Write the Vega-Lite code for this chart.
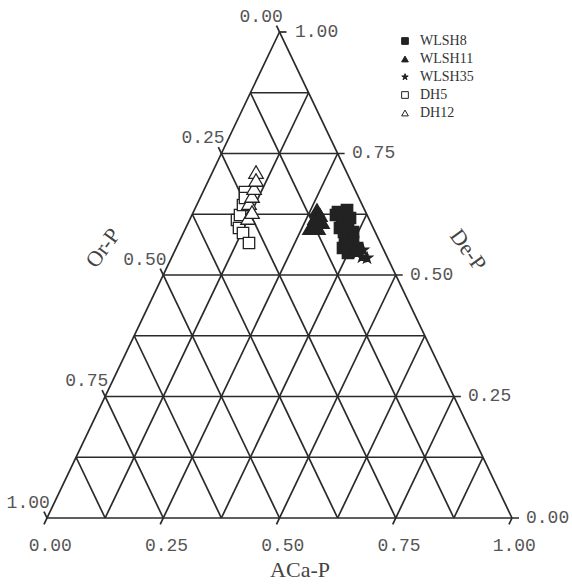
{
  "$schema": "https://vega.github.io/schema/vega-lite/v6.json",
  "width": 572,
  "height": 587,
  "autosize": "none",
  "padding": 0,
  "background": "white",
  "config": {"view": {"stroke": null}},
  "datasets": {
    "grid": [
      {"x": 0, "y": 0, "x2": 1.015, "y2": 0},
      {"x": 0.0625, "y": 0.125, "x2": 0.9375, "y2": 0.125},
      {"x": 0.125, "y": 0.25, "x2": 0.89, "y2": 0.25},
      {"x": 0.1875, "y": 0.375, "x2": 0.8125, "y2": 0.375},
      {"x": 0.25, "y": 0.5, "x2": 0.765, "y2": 0.5},
      {"x": 0.3125, "y": 0.625, "x2": 0.6875, "y2": 0.625},
      {"x": 0.375, "y": 0.75, "x2": 0.64, "y2": 0.75},
      {"x": 0.4375, "y": 0.875, "x2": 0.5625, "y2": 0.875},
      {"x": 0.5, "y": 1, "x2": 0.515, "y2": 1},
      {"x": -0.0065, "y": -0.013, "x2": 0.5, "y2": 1},
      {"x": 0.125, "y": 0, "x2": 0.5625, "y2": 0.875},
      {"x": 0.2435, "y": -0.013, "x2": 0.625, "y2": 0.75},
      {"x": 0.375, "y": 0, "x2": 0.6875, "y2": 0.625},
      {"x": 0.4935, "y": -0.013, "x2": 0.75, "y2": 0.5},
      {"x": 0.625, "y": 0, "x2": 0.8125, "y2": 0.375},
      {"x": 0.7435, "y": -0.013, "x2": 0.875, "y2": 0.25},
      {"x": 0.875, "y": 0, "x2": 0.9375, "y2": 0.125},
      {"x": 0.9935, "y": -0.013, "x2": 1, "y2": 0},
      {"x": 0, "y": 0, "x2": -0.0065, "y2": 0.013},
      {"x": 0.125, "y": 0, "x2": 0.0625, "y2": 0.125},
      {"x": 0.25, "y": 0, "x2": 0.1185, "y2": 0.263},
      {"x": 0.375, "y": 0, "x2": 0.1875, "y2": 0.375},
      {"x": 0.5, "y": 0, "x2": 0.2435, "y2": 0.513},
      {"x": 0.625, "y": 0, "x2": 0.3125, "y2": 0.625},
      {"x": 0.75, "y": 0, "x2": 0.3685, "y2": 0.763},
      {"x": 0.875, "y": 0, "x2": 0.4375, "y2": 0.875},
      {"x": 1, "y": 0, "x2": 0.4935, "y2": 1.013}
    ],
    "pts": [
      {"s": "WLSH8", "x": 0.6258, "y": 0.6296},
      {"s": "WLSH8", "x": 0.6452, "y": 0.6337},
      {"s": "WLSH8", "x": 0.6516, "y": 0.6173},
      {"s": "WLSH8", "x": 0.6344, "y": 0.6132},
      {"s": "WLSH8", "x": 0.6301, "y": 0.5967},
      {"s": "WLSH8", "x": 0.6473, "y": 0.5967},
      {"s": "WLSH8", "x": 0.6581, "y": 0.5885},
      {"s": "WLSH8", "x": 0.6409, "y": 0.5761},
      {"s": "WLSH8", "x": 0.6581, "y": 0.5679},
      {"s": "WLSH8", "x": 0.6366, "y": 0.5556},
      {"s": "WLSH8", "x": 0.6667, "y": 0.5556},
      {"s": "WLSH8", "x": 0.6473, "y": 0.5453},
      {"s": "WLSH8", "x": 0.6215, "y": 0.6235},
      {"s": "WLSH8", "x": 0.6387, "y": 0.5885},
      {"s": "WLSH11", "x": 0.5806, "y": 0.6337},
      {"s": "WLSH11", "x": 0.5763, "y": 0.6173},
      {"s": "WLSH11", "x": 0.5720, "y": 0.6029},
      {"s": "WLSH11", "x": 0.5828, "y": 0.5967},
      {"s": "WLSH11", "x": 0.5914, "y": 0.6091},
      {"s": "WLSH11", "x": 0.5656, "y": 0.5967},
      {"s": "WLSH11", "x": 0.5871, "y": 0.6235},
      {"s": "WLSH35", "x": 0.6774, "y": 0.5370},
      {"s": "WLSH35", "x": 0.6882, "y": 0.5350},
      {"s": "WLSH35", "x": 0.6667, "y": 0.5453},
      {"s": "WLSH35", "x": 0.6796, "y": 0.5514},
      {"s": "DH5", "x": 0.4258, "y": 0.6708},
      {"s": "DH5", "x": 0.4258, "y": 0.6584},
      {"s": "DH5", "x": 0.4215, "y": 0.6440},
      {"s": "DH5", "x": 0.4151, "y": 0.6235},
      {"s": "DH5", "x": 0.4086, "y": 0.6132},
      {"s": "DH5", "x": 0.4129, "y": 0.5967},
      {"s": "DH5", "x": 0.4215, "y": 0.5864},
      {"s": "DH5", "x": 0.4344, "y": 0.5658},
      {"s": "DH12", "x": 0.4495, "y": 0.7119},
      {"s": "DH12", "x": 0.4495, "y": 0.6955},
      {"s": "DH12", "x": 0.4452, "y": 0.6790},
      {"s": "DH12", "x": 0.4409, "y": 0.6626},
      {"s": "DH12", "x": 0.4344, "y": 0.6481},
      {"s": "DH12", "x": 0.4409, "y": 0.6296},
      {"s": "DH12", "x": 0.4323, "y": 0.6173}
    ]
  },
  "layer": [
    {
      "data": {"name": "grid"},
      "mark": {"type": "rule", "color": "#2a2a2a", "strokeWidth": 1.7},
      "encoding": {
        "x": {"field": "x", "type": "quantitative", "scale": {"domain": [-0.10108, 1.12903], "nice": false, "zero": false}, "axis": null},
        "y": {"field": "y", "type": "quantitative", "scale": {"domain": [-0.14198, 1.06584], "nice": false, "zero": false}, "axis": null},
        "x2": {"field": "x2"},
        "y2": {"field": "y2"}
      }
    },
    {
      "data": {"values": [
        {"x": 0.5333, "y": 1, "t": "1.00"},
        {"x": 0.6559, "y": 0.75, "t": "0.75"},
        {"x": 0.7806, "y": 0.5, "t": "0.50"},
        {"x": 0.9054, "y": 0.25, "t": "0.25"},
        {"x": 1.0301, "y": 0, "t": "0.00"}
      ]},
      "mark": {"type": "text", "align": "left", "baseline": "middle", "font": "Liberation Mono", "fontSize": 18, "color": "#555555"},
      "encoding": {
        "x": {"field": "x", "type": "quantitative"},
        "y": {"field": "y", "type": "quantitative"},
        "text": {"field": "t"}
      }
    },
    {
      "data": {"values": [
        {"x": 0.507, "y": 1.031, "t": "0.00"},
        {"x": 0.382, "y": 0.781, "t": "0.25"},
        {"x": 0.257, "y": 0.531, "t": "0.50"},
        {"x": 0.132, "y": 0.281, "t": "0.75"},
        {"x": 0.006, "y": 0.031, "t": "1.00"}
      ]},
      "mark": {"type": "text", "align": "right", "baseline": "middle", "font": "Liberation Mono", "fontSize": 18, "color": "#555555"},
      "encoding": {
        "x": {"field": "x", "type": "quantitative"},
        "y": {"field": "y", "type": "quantitative"},
        "text": {"field": "t"}
      }
    },
    {
      "data": {"values": [
        {"x": 0.007, "y": -0.0576, "t": "0.00"},
        {"x": 0.257, "y": -0.0576, "t": "0.25"},
        {"x": 0.507, "y": -0.0576, "t": "0.50"},
        {"x": 0.757, "y": -0.0576, "t": "0.75"},
        {"x": 1.005, "y": -0.0576, "t": "1.00"}
      ]},
      "mark": {"type": "text", "align": "center", "baseline": "middle", "font": "Liberation Mono", "fontSize": 18, "color": "#555555"},
      "encoding": {
        "x": {"field": "x", "type": "quantitative"},
        "y": {"field": "y", "type": "quantitative"},
        "text": {"field": "t"}
      }
    },
    {
      "data": {"values": [{"x": 0.5441, "y": -0.107, "t": "ACa-P"}]},
      "mark": {"type": "text", "align": "center", "baseline": "middle", "font": "Liberation Serif", "fontSize": 22, "color": "#444444"},
      "encoding": {
        "x": {"field": "x", "type": "quantitative"},
        "y": {"field": "y", "type": "quantitative"},
        "text": {"field": "t"}
      }
    },
    {
      "data": {"values": [{"x": 0.1204, "y": 0.5556, "t": "Or-P"}]},
      "mark": {"type": "text", "align": "center", "baseline": "middle", "font": "Liberation Serif", "fontSize": 22, "color": "#444444", "angle": -54},
      "encoding": {
        "x": {"field": "x", "type": "quantitative"},
        "y": {"field": "y", "type": "quantitative"},
        "text": {"field": "t"}
      }
    },
    {
      "data": {"values": [{"x": 0.9054, "y": 0.5514, "t": "De-P"}]},
      "mark": {"type": "text", "align": "center", "baseline": "middle", "font": "Liberation Serif", "fontSize": 22, "color": "#444444", "angle": 54},
      "encoding": {
        "x": {"field": "x", "type": "quantitative"},
        "y": {"field": "y", "type": "quantitative"},
        "text": {"field": "t"}
      }
    },
    {
      "data": {"name": "pts"},
      "transform": [{"filter": "datum.s === 'WLSH8' || datum.s === 'WLSH35' || datum.s === 'DH5'"}],
      "mark": {"type": "point", "filled": true, "size": 130, "stroke": "#222222", "strokeWidth": 1.3, "opacity": 1},
      "encoding": {
        "x": {"field": "x", "type": "quantitative"},
        "y": {"field": "y", "type": "quantitative"},
        "shape": {
          "field": "s", "type": "nominal",
          "scale": {
            "domain": ["WLSH8", "WLSH11", "WLSH35", "DH5", "DH12"],
            "range": ["square", "triangle-up", "M0,-1L0.2245,-0.309L0.951,-0.309L0.363,0.118L0.588,0.809L0,0.382L-0.588,0.809L-0.363,0.118L-0.951,-0.309L-0.2245,-0.309Z", "square", "triangle-up"]
          },
          "legend": {
            "title": null, "orient": "none", "legendX": 398, "legendY": 34,
            "labelFont": "Liberation Serif", "labelFontSize": 14, "labelColor": "#333333",
            "symbolSize": 45, "rowPadding": 4, "labelOffset": 8, "symbolStrokeWidth": 1
          }
        },
        "fill": {
          "field": "s", "type": "nominal",
          "scale": {
            "domain": ["WLSH8", "WLSH11", "WLSH35", "DH5", "DH12"],
            "range": ["#222222", "#222222", "#222222", "#ffffff", "#ffffff"]
          },
          "legend": {
            "title": null, "orient": "none", "legendX": 398, "legendY": 34,
            "labelFont": "Liberation Serif", "labelFontSize": 14, "labelColor": "#333333",
            "symbolSize": 45, "rowPadding": 4, "labelOffset": 8, "symbolStrokeWidth": 1
          }
        },
        "order": {"field": "x", "type": "quantitative"}
      }
    },
    {
      "data": {"name": "pts"},
      "transform": [{"filter": "datum.s === 'WLSH11' || datum.s === 'DH12'"}],
      "mark": {"type": "point", "filled": true, "size": 210, "stroke": "#222222", "strokeWidth": 1.3, "opacity": 1},
      "encoding": {
        "x": {"field": "x", "type": "quantitative"},
        "y": {"field": "y", "type": "quantitative"},
        "shape": {"field": "s", "type": "nominal"},
        "fill": {"field": "s", "type": "nominal"},
        "order": {"field": "x", "type": "quantitative"}
      }
    }
  ]
}
